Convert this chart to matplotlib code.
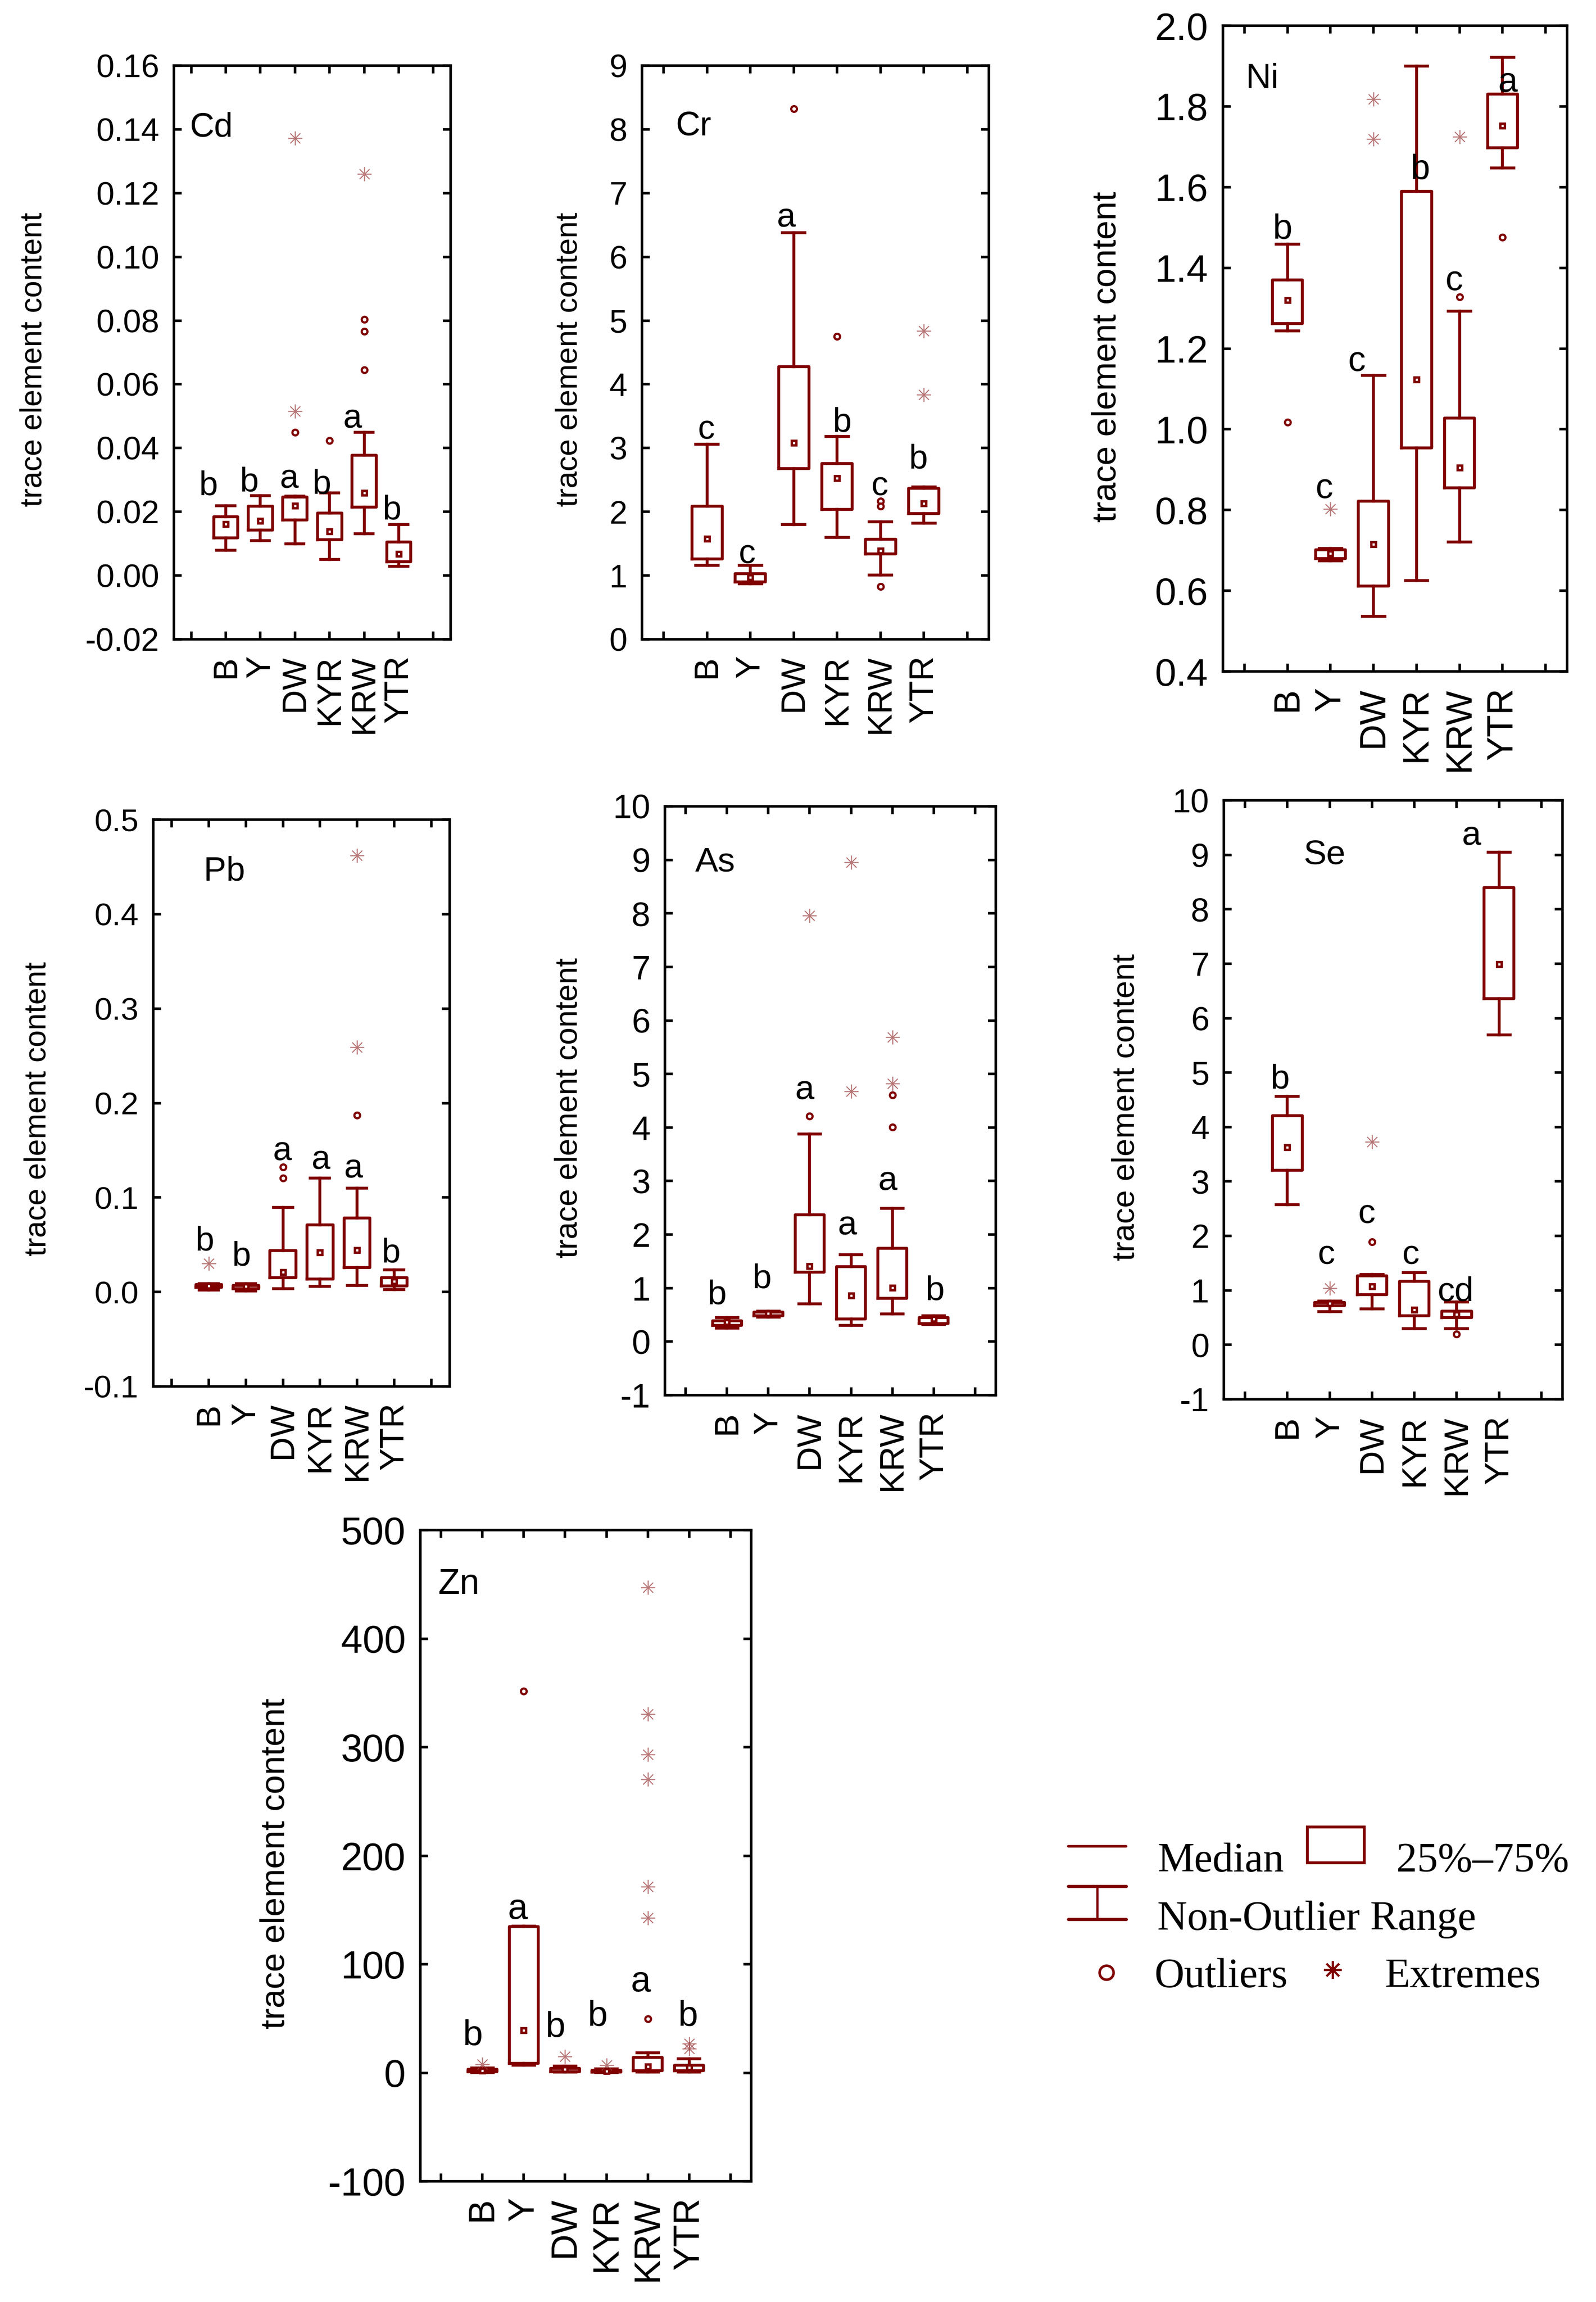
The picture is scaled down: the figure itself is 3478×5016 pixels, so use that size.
import matplotlib
matplotlib.use("Agg")
import matplotlib.pyplot as plt
from matplotlib.lines import Line2D
from matplotlib.patches import Rectangle

W, H = 3478, 5016
DPI = 100
DARK_RED = '#800000'
EXTREME_COLOR = '#a04848'

groups = ['B', 'Y', 'DW', 'KYR', 'KRW', 'YTR']

# ---------------- data ----------------
# Cd
cd_whislo = [0.0079, 0.0110, 0.0100, 0.0050, 0.0131, 0.0029]
cd_q1 = [0.0118, 0.0143, 0.0174, 0.0113, 0.0215, 0.0044]
cd_med = [0.0162, 0.0172, 0.0219, 0.0138, 0.0259, 0.0068]
cd_q3 = [0.0185, 0.0218, 0.0247, 0.0196, 0.0378, 0.0106]
cd_whishi = [0.0219, 0.0251, 0.0250, 0.0260, 0.0450, 0.0160]
cd_outliers = [[], [], [0.0449], [0.0424], [0.0804, 0.0766, 0.0646], []]
cd_extremes = [[], [], [0.0515, 0.1372], [], [0.1260], []]
cd_letters = ['b', 'b', 'a', 'b', 'a', 'b']
cd_letter_y = [0.0253, 0.0265, 0.0275, 0.0257, 0.0463, 0.0176]

# Cr
cr_whislo = [1.16, 0.87, 1.80, 1.60, 1.01, 1.82]
cr_q1 = [1.26, 0.90, 2.68, 2.04, 1.34, 1.97]
cr_med = [1.58, 0.97, 3.08, 2.53, 1.39, 2.13]
cr_q3 = [2.09, 1.03, 4.28, 2.76, 1.57, 2.37]
cr_whishi = [3.06, 1.16, 6.38, 3.18, 1.84, 2.39]
cr_outliers = [[], [], [8.32], [4.75], [2.17, 2.09, 0.83], []]
cr_extremes = [[], [], [], [], [], [4.84, 3.84]]
cr_letters = ['c', 'c', 'a', 'b', 'c', 'b']
cr_letter_y = [3.14, 1.19, 6.47, 3.26, 2.26, 2.68]

# Ni
ni_whislo = [1.244, 0.674, 0.537, 0.625, 0.721, 1.647]
ni_q1 = [1.262, 0.680, 0.612, 0.954, 0.855, 1.697]
ni_med = [1.320, 0.692, 0.715, 1.123, 0.905, 1.752]
ni_q3 = [1.370, 0.701, 0.822, 1.589, 1.028, 1.830]
ni_whishi = [1.459, 0.705, 1.134, 1.900, 1.293, 1.922]
ni_outliers = [[1.018], [], [], [], [1.328], [1.476]]
ni_extremes = [[], [0.803], [1.818, 1.719], [], [1.725], []]
ni_letters = ['b', 'c', 'c', 'b', 'c', 'a']
ni_letter_y = [1.472, 0.830, 1.145, 1.62, 1.345, 1.836]

# Pb
pb_whislo = [0.0020, 0.0010, 0.0037, 0.0060, 0.0070, 0.0023]
pb_q1 = [0.0047, 0.0037, 0.0149, 0.0135, 0.0256, 0.0065]
pb_med = [0.0065, 0.0060, 0.0209, 0.0419, 0.0442, 0.0112]
pb_q3 = [0.0079, 0.0070, 0.0437, 0.0712, 0.0781, 0.0149]
pb_whishi = [0.0088, 0.0088, 0.0893, 0.1205, 0.1100, 0.0233]
pb_outliers = [[], [], [0.132, 0.1205], [], [0.187], []]
pb_extremes = [[0.030], [], [], [], [0.259, 0.462], []]
pb_letters = ['b', 'b', 'a', 'a', 'a', 'b']
pb_letter_y = [0.044, 0.028, 0.1395, 0.130, 0.121, 0.0316]

# As
as_whislo = [0.25, 0.46, 0.71, 0.30, 0.52, 0.32]
as_q1 = [0.30, 0.48, 1.30, 0.42, 0.81, 0.34]
as_med = [0.36, 0.53, 1.41, 0.86, 1.01, 0.42]
as_q3 = [0.39, 0.55, 2.37, 1.40, 1.74, 0.45]
as_whishi = [0.45, 0.57, 3.88, 1.62, 2.49, 0.48]
as_outliers = [[], [], [4.21], [], [4.61, 4.01], []]
as_extremes = [[], [], [7.96], [8.95, 4.68], [5.69, 4.82], []]
as_letters = ['b', 'b', 'a', 'a', 'a', 'b']
as_letter_y = [0.70, 1.00, 4.53, 2.00, 2.83, 0.78]

# Se
se_whislo = [2.57, 0.61, 0.66, 0.30, 0.30, 5.69]
se_q1 = [3.21, 0.72, 0.92, 0.53, 0.50, 6.36]
se_med = [3.63, 0.76, 1.07, 0.64, 0.56, 6.99]
se_q3 = [4.21, 0.78, 1.27, 1.17, 0.62, 8.40]
se_whishi = [4.56, 0.80, 1.29, 1.33, 0.79, 9.05]
se_outliers = [[], [], [1.89], [], [0.20], []]
se_extremes = [[], [1.04], [3.73], [], [], []]
se_letters = ['b', 'c', 'c', 'c', 'cd', 'a']
se_letter_y = [4.71, 1.48, 2.23, 1.48, 0.81, 9.18]

# Zn
zn_whislo = [0.3, 7.0, 0.5, 0.3, 0.8, 0.5]
zn_q1 = [1.0, 8.6, 1.0, 0.8, 2.0, 2.0]
zn_med = [2.0, 39.0, 3.0, 1.5, 5.5, 5.0]
zn_q3 = [3.0, 134.5, 4.0, 2.2, 14.0, 7.0]
zn_whishi = [4.5, 135.0, 6.0, 3.5, 18.5, 12.7]
zn_outliers = [[], [351.6], [], [], [49.6], []]
zn_extremes = [[8.0], [], [15.0], [7.0],
               [447.0, 330.6, 293.4, 270.5, 171.3, 142.7], [22.0, 27.0]]
zn_letters = ['b', 'a', 'b', 'b', 'a', 'b']
zn_letter_y = [25, 141.7, 33, 43, 75, 43]

# ---------------- layout (pixels in the 3478x5016 canvas) ----------------
panels = [
    dict(name='Cd', whislo=cd_whislo, q1=cd_q1, med=cd_med, q3=cd_q3, whishi=cd_whishi,
         outliers=cd_outliers, extremes=cd_extremes, letters=cd_letters, letter_y=cd_letter_y,
         letter_dx=[-0.51, -0.33, -0.16, -0.23, -0.33, -0.20],
         ylim=(-0.02, 0.16), step=0.02, fmt='{:.2f}',
         box=(379, 982, 143, 1393), ylab=(67, 783), tag=(-0.04, 0.1405),
         fs_tick=51, fs_x=53, fs_lab=48, fs_tag=53),
    dict(name='Cr', whislo=cr_whislo, q1=cr_q1, med=cr_med, q3=cr_q3, whishi=cr_whishi,
         outliers=cr_outliers, extremes=cr_extremes, letters=cr_letters, letter_y=cr_letter_y,
         letter_dx=[-0.01, -0.07, -0.17, 0.11, -0.01, -0.13],
         ylim=(0, 9), step=1, fmt='{:.0f}',
         box=(1399, 2155, 143, 1393), ylab=(1234, 783), tag=(0.27, 8.05),
         fs_tick=51, fs_x=53, fs_lab=48, fs_tag=53),
    dict(name='Ni', whislo=ni_whislo, q1=ni_q1, med=ni_med, q3=ni_q3, whishi=ni_whishi,
         outliers=ni_outliers, extremes=ni_extremes, letters=ni_letters, letter_y=ni_letter_y,
         letter_dx=[-0.12, -0.14, -0.39, 0.08, -0.13, 0.12],
         ylim=(0.4, 2.0), step=0.2, fmt='{:.1f}',
         box=(2665, 3415, 56, 1463), ylab=(2405, 778), tag=(0.03, 1.867),
         fs_tick=60, fs_x=57, fs_lab=54, fs_tag=55),
    dict(name='Pb', whislo=pb_whislo, q1=pb_q1, med=pb_med, q3=pb_q3, whishi=pb_whishi,
         outliers=pb_outliers, extremes=pb_extremes, letters=pb_letters, letter_y=pb_letter_y,
         letter_dx=[-0.12, -0.13, -0.02, 0.03, -0.10, -0.09],
         ylim=(-0.1, 0.5), step=0.1, fmt='{:.1f}',
         box=(334, 980, 1786, 3021), ylab=(76, 2416), tag=(0.86, 0.445),
         fs_tick=50, fs_x=53, fs_lab=48, fs_tag=53),
    dict(name='As', whislo=as_whislo, q1=as_q1, med=as_med, q3=as_q3, whishi=as_whishi,
         outliers=as_outliers, extremes=as_extremes, letters=as_letters, letter_y=as_letter_y,
         letter_dx=[-0.25, -0.16, -0.12, -0.09, -0.11, 0.02],
         ylim=(-1, 10), step=1, fmt='{:.0f}',
         box=(1449, 2170, 1757, 3040), ylab=(1232, 2414), tag=(0.23, 8.95),
         fs_tick=53, fs_x=54, fs_lab=49, fs_tag=54),
    dict(name='Se', whislo=se_whislo, q1=se_q1, med=se_med, q3=se_q3, whishi=se_whishi,
         outliers=se_outliers, extremes=se_extremes, letters=se_letters, letter_y=se_letter_y,
         letter_dx=[-0.18, -0.08, -0.12, -0.08, -0.02, -0.65],
         ylim=(-1, 10), step=1, fmt='{:.0f}',
         box=(2667, 3405, 1744, 3049), ylab=(2446, 2413), tag=(1.38, 9.0),
         fs_tick=52, fs_x=54, fs_lab=50, fs_tag=54),
    dict(name='Zn', whislo=zn_whislo, q1=zn_q1, med=zn_med, q3=zn_q3, whishi=zn_whishi,
         outliers=zn_outliers, extremes=zn_extremes, letters=zn_letters, letter_y=zn_letter_y,
         letter_dx=[-0.23, -0.14, -0.23, -0.21, -0.17, -0.03],
         ylim=(-100, 500), step=100, fmt='{:.0f}',
         box=(916, 1637, 3334, 4753), ylab=(593, 4061), tag=(-0.07, 450),
         fs_tick=61, fs_x=57, fs_lab=54, fs_tag=56),
]


def fx(x):
    return x / W


def fy(y):
    return 1 - y / H


fig = plt.figure(figsize=(W / DPI, H / DPI), dpi=DPI)
plt.rcParams['font.family'] = ['Liberation Sans', 'DejaVu Sans']

for p in panels:
    L, R, T, B = p['box']
    ax = fig.add_axes([fx(L), fy(B), (R - L) / W, (B - T) / H])

    stats = []
    for i in range(len(groups)):
        stats.append(dict(med=p['med'][i], q1=p['q1'][i], q3=p['q3'][i],
                          whislo=p['whislo'][i], whishi=p['whishi'][i],
                          mean=p['med'][i], fliers=[]))
    pos = list(range(1, len(groups) + 1))
    ax.bxp(stats, positions=pos, widths=0.70, capwidths=0.52,
           showmeans=True, showfliers=False, manage_ticks=False,
           boxprops=dict(color=DARK_RED, linewidth=4.6),
           whiskerprops=dict(color=DARK_RED, linewidth=4.6),
           capprops=dict(color=DARK_RED, linewidth=4.6),
           medianprops=dict(linestyle='none'),
           meanprops=dict(marker='s', markerfacecolor='white', markeredgecolor=DARK_RED,
                          markersize=7.5, markeredgewidth=3.8, linestyle='none'))

    for x, vals in zip(pos, p['outliers']):
        if vals:
            ax.plot([x] * len(vals), vals, linestyle='none', marker='o',
                    markerfacecolor='white', markeredgecolor=DARK_RED,
                    markersize=9, markeredgewidth=3.4)
    for x, vals in zip(pos, p['extremes']):
        if vals:
            ax.plot([x] * len(vals), vals, linestyle='none', marker=(8, 2, 0),
                    color=EXTREME_COLOR, markersize=22, markeredgewidth=1.2, alpha=0.75)

    for x, dx, lt, ly in zip(pos, p['letter_dx'], p['letters'], p['letter_y']):
        ax.text(x + dx, ly, lt, ha='center', va='baseline', fontsize=p['fs_tag'], color='black')

    ax.text(p['tag'][0], p['tag'][1], p['name'], ha='left', va='center',
            fontsize=p['fs_tag'], color='black')

    lo, hi = p['ylim']
    n = int(round((hi - lo) / p['step']))
    yt = [lo + k * p['step'] for k in range(n + 1)]
    ax.set_ylim(lo, hi)
    ax.set_yticks(yt)
    ax.set_yticklabels([p['fmt'].format(v).replace('\u2212', '-') for v in yt])
    ax.set_xlim(-0.5, 7.5)
    ax.set_xticks(range(8))
    ax.set_xticklabels([''] + groups + [''], rotation=90, fontsize=p['fs_x'])

    ax.tick_params(axis='both', direction='in', top=True, right=True,
                   length=12, width=4, colors='black')
    ax.tick_params(axis='y', labelsize=p['fs_tick'], pad=23)
    ax.tick_params(axis='x', pad=25)
    for s in ax.spines.values():
        s.set_linewidth(4)

    fig.text(fx(p['ylab'][0] + 7), fy(p['ylab'][1]), 'trace element content',
             rotation=90, ha='center', va='center', fontsize=p['fs_lab'])

# ---------------- legend ----------------
serif = ['Liberation Serif', 'DejaVu Serif']
fs_leg = 65

fig.add_artist(Line2D([fx(2328), fx(2454)], [fy(4023), fy(4023)],
                      transform=fig.transFigure, color=DARK_RED, linewidth=4,
                      solid_capstyle='round'))
fig.text(fx(2522), fy(4078), 'Median', fontsize=fs_leg, family=serif,
         ha='left', va='baseline')

fig.add_artist(Rectangle((fx(2849), fy(4059)), (2973 - 2849) / W, (4059 - 3981) / H,
                         transform=fig.transFigure, fill=False,
                         edgecolor=DARK_RED, linewidth=4.5))
fig.text(fx(3043), fy(4078), '25%\u201375%', fontsize=fs_leg, family=serif,
         ha='left', va='baseline')

for yy in (4110, 4182):
    fig.add_artist(Line2D([fx(2328), fx(2454)], [fy(yy), fy(yy)],
                          transform=fig.transFigure, color=DARK_RED, linewidth=5,
                          solid_capstyle='round'))
fig.add_artist(Line2D([fx(2391), fx(2391)], [fy(4110), fy(4182)],
                      transform=fig.transFigure, color=DARK_RED, linewidth=3.5))
fig.text(fx(2522), fy(4205), 'Non-Outlier Range', fontsize=fs_leg, family=serif,
         ha='left', va='baseline')

fig.add_artist(Line2D([fx(2411)], [fy(4298)], transform=fig.transFigure,
                      linestyle='none', marker='o', markerfacecolor='white',
                      markeredgecolor=DARK_RED, markersize=22, markeredgewidth=4))
fig.text(fx(2515), fy(4330), 'Outliers', fontsize=fs_leg, family=serif,
         ha='left', va='baseline')

fig.add_artist(Line2D([fx(2904)], [fy(4292)], transform=fig.transFigure,
                      linestyle='none', marker=(8, 2, 0), color=DARK_RED,
                      markersize=28, markeredgewidth=3))
fig.text(fx(3017), fy(4330), 'Extremes', fontsize=fs_leg, family=serif,
         ha='left', va='baseline')

fig.savefig('out.png', dpi=DPI, facecolor='white')
